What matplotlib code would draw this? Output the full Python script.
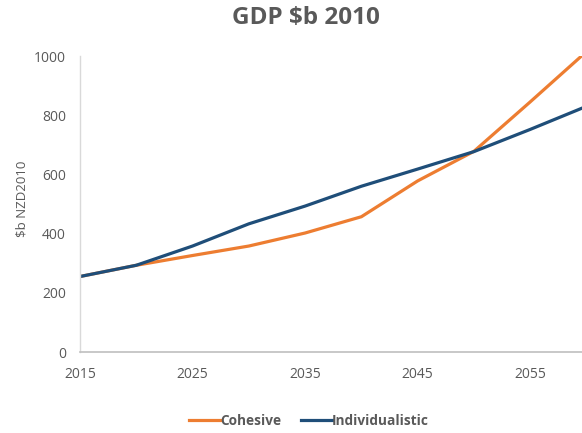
import matplotlib
matplotlib.use("Agg")
import matplotlib.pyplot as plt

years = [2015, 2020, 2025, 2030, 2035, 2040, 2045, 2050, 2055, 2060]
cohesive = [255, 293, 326, 358, 402, 457, 578, 678, 845, 1015]
individualistic = [255, 293, 358, 433, 493, 560, 618, 677, 752, 830]
x_ticks = [2015, 2025, 2035, 2045, 2055]
y_ticks = [0, 200, 400, 600, 800, 1000]

plt.rcParams['font.family'] = ['Open Sans', 'DejaVu Sans']

fig = plt.figure(figsize=(5.82, 4.33), dpi=100)
ax = fig.add_axes([80 / 582, 1 - 352 / 433, 1 - 80 / 582, (352 - 56) / 433])

ax.plot(years, cohesive, color='#ED7D31', lw=2.3, label='Cohesive', solid_joinstyle='round')
ax.plot(years, individualistic, color='#1F4E79', lw=2.3, label='Individualistic', solid_joinstyle='round')

ax.set_xlim(2015, 2059.6)
ax.set_ylim(0, 1000)
ax.set_xticks(x_ticks)
ax.set_yticks(y_ticks)
ax.tick_params(length=0, labelsize=10, labelcolor='#595959')
ax.tick_params(axis='y', pad=10)
ax.tick_params(axis='x', pad=10.5)

for side in ('top', 'right'):
    ax.spines[side].set_visible(False)
ax.spines['left'].set_color('#D9D9D9')
ax.spines['bottom'].set_color('#BFBFBF')
ax.spines['left'].set_linewidth(1.0)
ax.spines['bottom'].set_linewidth(1.2)

ax.set_ylabel('$b NZD2010', fontsize=9.5, color='#595959')
ax.yaxis.set_label_coords(-(80 - 28) / (582 - 80), (352 - 199) / (352 - 56))

fig.text(306 / 582, 1 - 18 / 433, 'GDP $b 2010', ha='center', va='center',
         fontsize=17.5, fontweight='bold', color='#595959')

leg = fig.legend(loc='center', bbox_to_anchor=(309 / 582, 1 - 421 / 433), ncol=2,
                 frameon=False, fontsize=9.8, handlelength=2.3, handletextpad=0.0,
                 columnspacing=1.4)
for t in leg.get_texts():
    t.set_color('#595959')
    t.set_fontweight('bold')

fig.savefig('out.png', dpi=100)
